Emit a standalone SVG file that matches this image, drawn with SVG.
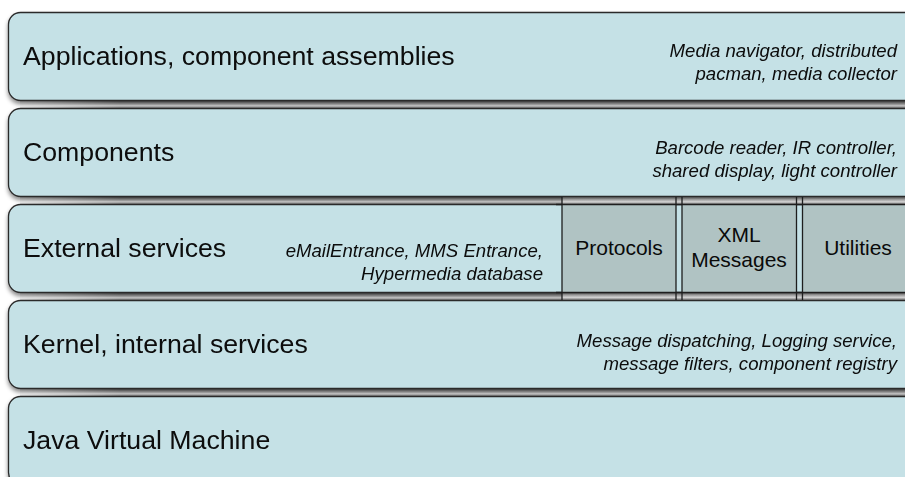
<svg xmlns="http://www.w3.org/2000/svg" width="905" height="477" viewBox="0 0 905 477">
  <defs>
    <linearGradient id="gapShade" x1="0" y1="0" x2="0" y2="1">
      <stop offset="0" stop-color="#4e4e4e"/>
      <stop offset="0.35" stop-color="#a0a0a0"/>
      <stop offset="0.7" stop-color="#d8d8d8"/>
      <stop offset="1" stop-color="#7e7e7e"/>
    </linearGradient>
    <linearGradient id="gapFade" x1="0" y1="0" x2="1" y2="0">
      <stop offset="0" stop-color="#fff" stop-opacity="1"/>
      <stop offset="1" stop-color="#fff" stop-opacity="0"/>
    </linearGradient>
    <filter id="soft" x="-5%" y="-20%" width="110%" height="160%">
      <feGaussianBlur in="SourceAlpha" stdDeviation="2"/>
      <feOffset dy="3" result="b"/>
      <feFlood flood-color="#000" flood-opacity="0.45"/>
      <feComposite in2="b" operator="in"/>
      <feMerge><feMergeNode/><feMergeNode in="SourceGraphic"/></feMerge>
    </filter>
  </defs>
  <style>
    .layer { fill: #c5e1e6; stroke: #2a2a2a; stroke-width: 1.3; }
    .cell { fill: #b0c3c3; stroke: none; }
    .cellEdge { stroke: #1e1e1e; stroke-width: 1.3; fill: none; }
    .gap { fill: url(#gapShade); }
    .title { font-family: "Liberation Sans", Arial, sans-serif; font-size: 26.7px; fill: #0a0a0a; }
    .note { font-family: "Liberation Sans", Arial, sans-serif; font-size: 18.6px; font-style: italic; fill: #0a0a0a; text-anchor: end; }
    .cellText { font-family: "Liberation Sans", Arial, sans-serif; font-size: 21px; fill: #0a0a0a; text-anchor: middle; }
  </style>

  <!-- shaded bands between the stacked layers -->
  <g id="bands">
    <rect class="gap" x="20" y="100" width="900" height="8"/>
    <rect class="gap" x="20" y="196" width="900" height="8"/>
    <rect class="gap" x="20" y="292" width="900" height="8"/>
    <rect class="gap" x="20" y="388" width="900" height="8"/>
    <rect x="0" y="96" width="120" height="16" fill="url(#gapFade)"/>
    <rect x="0" y="192" width="120" height="16" fill="url(#gapFade)"/>
    <rect x="0" y="288" width="120" height="16" fill="url(#gapFade)"/>
    <rect x="0" y="384" width="120" height="16" fill="url(#gapFade)"/>
  </g>

  <g id="applications" filter="url(#soft)">
    <rect class="layer" x="8.5" y="12.5" width="930" height="88" rx="12"/>
    <text class="title" x="23" y="65">Applications, component assemblies</text>
    <text class="note" x="897" y="57">Media navigator, distributed</text>
    <text class="note" x="897" y="80">pacman, media collector</text>
  </g>

  <g id="components" filter="url(#soft)">
    <rect class="layer" x="8.5" y="108.5" width="930" height="88" rx="12"/>
    <text class="title" x="23" y="161">Components</text>
    <text class="note" x="897" y="154">Barcode reader, IR controller,</text>
    <text class="note" x="897" y="177">shared display, light controller</text>
  </g>

  <g id="external-services" filter="url(#soft)">
    <rect class="layer" x="8.5" y="204.5" width="930" height="88" rx="12"/>
    <text class="title" x="23" y="257">External services</text>
    <text class="note" x="543" y="257">eMailEntrance, MMS Entrance,</text>
    <text class="note" x="543" y="280">Hypermedia database</text>
  </g>

  <g id="kernel" filter="url(#soft)">
    <rect class="layer" x="8.5" y="300.5" width="930" height="88" rx="12"/>
    <text class="title" x="23" y="353">Kernel, internal services</text>
    <text class="note" x="897" y="347">Message dispatching, Logging service,</text>
    <text class="note" x="897" y="370">message filters, component registry</text>
  </g>

  <g id="jvm" filter="url(#soft)">
    <rect class="layer" x="8.5" y="396.5" width="930" height="88" rx="12"/>
    <text class="title" x="23" y="449">Java Virtual Machine</text>
  </g>

  <!-- service cells inside the external services layer -->
  <g id="protocols">
    <rect class="cell" x="562" y="205" width="114" height="87"/>
    <text class="cellText" x="619" y="255">Protocols</text>
  </g>
  <g id="xml-messages">
    <rect class="cell" x="682" y="205" width="114.5" height="87"/>
    <text class="cellText" x="739" y="242">XML</text>
    <text class="cellText" x="739" y="267">Messages</text>
  </g>
  <g id="utilities">
    <rect class="cell" x="802.5" y="205" width="110" height="87"/>
    <text class="cellText" x="858" y="255">Utilities</text>
  </g>
  <g id="cell-frame">
    <rect class="gap" x="562" y="197" width="350" height="7" opacity="0.85"/>
    <rect class="gap" x="562" y="292.5" width="350" height="7" opacity="0.85"/>
    <path class="cellEdge" d="M556 204.5H905M556 292.5H905"/>
    <path class="cellEdge" d="M562 197V300M676 197V300M682 197V300M796.5 197V300M802.5 197V300"/>
  </g>
</svg>
